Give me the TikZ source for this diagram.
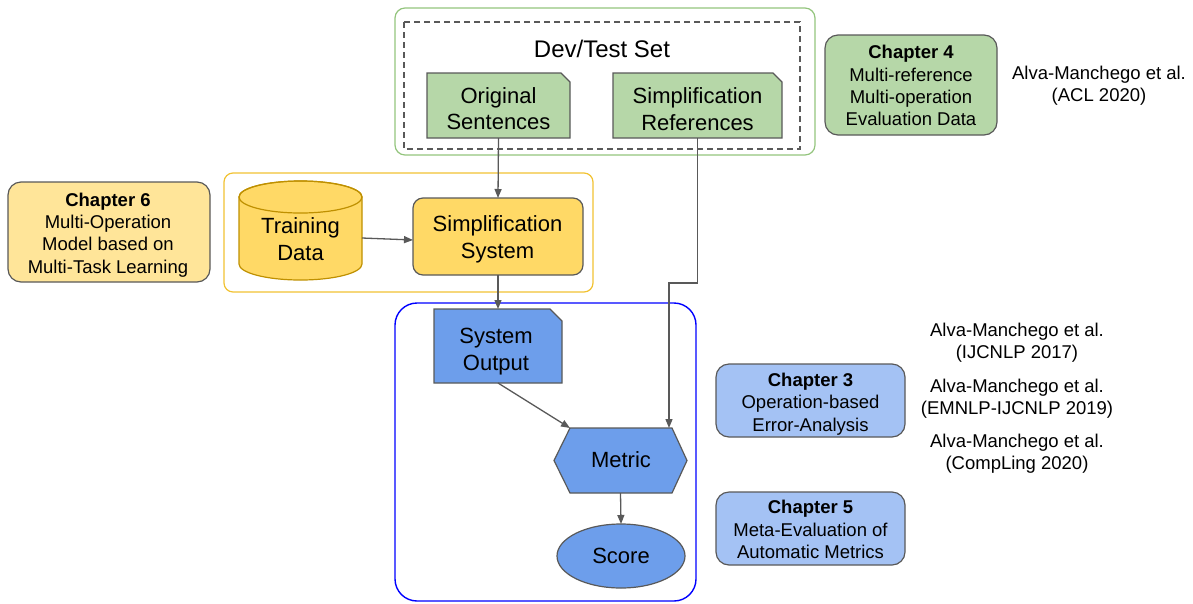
\documentclass[tikz,border=0pt]{standalone}
\usepackage{fontspec}
\setmainfont{Liberation Sans}
\usetikzlibrary{arrows.meta,calc,shapes.geometric}

\definecolor{strokegray}{HTML}{595959}
\definecolor{greenfill}{HTML}{B6D7A8}
\definecolor{greenframe}{HTML}{93C47D}
\definecolor{yellowfill}{HTML}{FFD966}
\definecolor{yellowlight}{HTML}{FFE599}
\definecolor{yellowframe}{HTML}{F1C232}
\definecolor{cylstroke}{HTML}{BF9000}
\definecolor{bluefill}{HTML}{6D9EEB}
\definecolor{bluelight}{HTML}{A4C2F4}
\definecolor{blueframe}{HTML}{0000FF}

\begin{document}
\begin{tikzpicture}[x=1pt,y=-1pt,
  outline/.style={draw=strokegray, line width=1.2pt},
  link/.style={draw=strokegray, line width=1.3pt, -{Triangle[length=9pt,width=7pt]}},
  biglabel/.style={font=\fontsize{22}{26.5}\selectfont, align=center, inner sep=0pt, text depth=0pt},
  smalllabel/.style={font=\fontsize{18.5}{22.3}\selectfont, align=center, inner sep=0pt, text depth=0pt},
  area/.style={inner sep=0pt, outer sep=0pt},
  chapter/.style={outline, rounded corners=13pt, inner sep=0pt, outer sep=0pt},
]
\useasboundingbox (0,0) rectangle (1193,603);

% ---- grouping frames
\draw[greenframe, line width=1.2pt, rounded corners=10pt] (395,8) rectangle (815,155);
\draw[strokegray, line width=1.1pt, dash pattern=on 6pt off 4pt] (404,22) rectangle (800,149);
\draw[yellowframe, line width=1.2pt, rounded corners=9pt] (224,173) rectangle (593,292);
\draw[blueframe, line width=1.4pt, rounded corners=22pt] (395,303) rectangle (696,601);

% ---- shape placeholders (anchors for the outlines and the connectors)
\node[area, minimum width=143pt, minimum height=65pt] (orig) at (498.5,105.5) {};
\node[area, minimum width=169pt, minimum height=65pt] (refs) at (697.5,105.5) {};
\node[area, minimum width=123pt, minimum height=99pt] (td) at (300.5,230.5) {};
\node[area, outline, fill=yellowfill, rounded corners=10pt,
      minimum width=170pt, minimum height=77pt] (ss) at (498,236.5) {};
\node[area, minimum width=128pt, minimum height=74pt] (so) at (498,346) {};
\node[area, minimum width=133pt, minimum height=65pt] (metric) at (620.5,460.5) {};
\node[area, ellipse, outline, fill=bluefill,
      minimum width=128pt, minimum height=64pt] (score) at (621,556) {};

% ---- chapter boxes
\node[chapter, fill=greenfill, minimum width=172pt, minimum height=100pt] (ch4) at (911,85) {};
\node[chapter, fill=yellowlight, minimum width=202pt, minimum height=100pt] (ch6) at (109,232) {};
\node[chapter, fill=bluelight, minimum width=189pt, minimum height=73pt] (ch3) at (810.5,400.5) {};
\node[chapter, fill=bluelight, minimum width=189pt, minimum height=73pt] (ch5) at (810.5,528.5) {};

% ---- documents with a folded corner
\filldraw[outline, fill=greenfill] (orig.south west) -- (orig.north west)
  -- ($(orig.north east)+(-9,0)$) -- ($(orig.north east)+(0,9)$) -- (orig.south east) -- cycle;
\filldraw[outline, fill=greenfill] (refs.south west) -- (refs.north west)
  -- ($(refs.north east)+(-9,0)$) -- ($(refs.north east)+(0,9)$) -- (refs.south east) -- cycle;
\filldraw[outline, fill=bluefill] (so.south west) -- (so.north west)
  -- ($(so.north east)+(-12,0)$) -- ($(so.north east)+(0,12)$) -- (so.south east) -- cycle;

% ---- database cylinder
\filldraw[draw=cylstroke, line width=1.2pt, fill=yellowfill]
  ($(td.north west)+(0,16)$) -- ($(td.south west)+(0,-16)$)
  arc[start angle=180, end angle=0, x radius=61.5, y radius=16]
  -- ($(td.north east)+(0,16)$)
  arc[start angle=0, end angle=-180, x radius=61.5, y radius=16] -- cycle;
\draw[draw=cylstroke, line width=1.2pt] ($(td.north)+(0,16)$) ellipse [x radius=61.5, y radius=16];

% ---- hexagon
\filldraw[outline, fill=bluefill] (metric.west) -- ($(metric.north west)+(16,0)$)
  -- ($(metric.north east)+(-15,0)$) -- (metric.east) -- ($(metric.south east)+(-15,0)$)
  -- ($(metric.south west)+(16,0)$) -- cycle;

% ---- connectors
\coordinate (mnw) at ($(metric.north west)+(16,0)$);
\coordinate (bend) at (669,283);
\draw[link] (orig.south) -- (ss.north);
\draw[link] ($(td.east)+(0,7.5)$) -- ($(ss.west)+(0,3.5)$);
\draw[link] (ss.south) -- (so.north);
\draw[link] (so.south) -- (mnw);
\draw[link] (refs.south) |- (bend) -- (bend |- metric.north);
\draw[link] (metric.south) -- (score.north);

% ---- labels
\node[biglabel, font=\fontsize{24}{28}\selectfont] (dev-t) at (602,48.5) {Dev/Test Set};
\node[biglabel] (orig-t) at (498.5,108.5) {Original\\Sentences};
\node[biglabel] (refs-t) at (697.5,109) {Simplification\\References};
\node[biglabel] (td-t) at (300.5,239) {Training\\Data};
\node[biglabel] (ss-t) at (497.5,237) {Simplification\\System};
\node[biglabel] (so-t) at (496,349.5) {System\\Output};
\node[biglabel] (metric-t) at (621,459.5) {Metric};
\node[biglabel] (score-t) at (621,556) {Score};

\node[smalllabel] (ch4-t) at (911,85.5) {\textbf{Chapter 4}\\Multi-reference\\Multi-operation\\Evaluation Data};
\node[smalllabel] (ch6-t) at (108,233) {\textbf{Chapter 6}\\Multi-Operation\\Model based on\\Multi-Task Learning};
\node[smalllabel] (ch3-t) at (810.5,402) {\textbf{Chapter 3}\\Operation-based\\Error-Analysis};
\node[smalllabel] (ch5-t) at (810.5,529.5) {\textbf{Chapter 5}\\Meta-Evaluation of\\Automatic Metrics};

\node[smalllabel] (acl-t) at (1099,83.5) {Alva-Manchego et al.\\(ACL 2020)};
\node[smalllabel] (ijc-t) at (1017,340.5) {Alva-Manchego et al.\\(IJCNLP 2017)};
\node[smalllabel] (emn-t) at (1017,397) {Alva-Manchego et al.\\(EMNLP-IJCNLP 2019)};
\node[smalllabel] (cl-t) at (1017,452) {Alva-Manchego et al.\\(CompLing 2020)};
\end{tikzpicture}
\end{document}
